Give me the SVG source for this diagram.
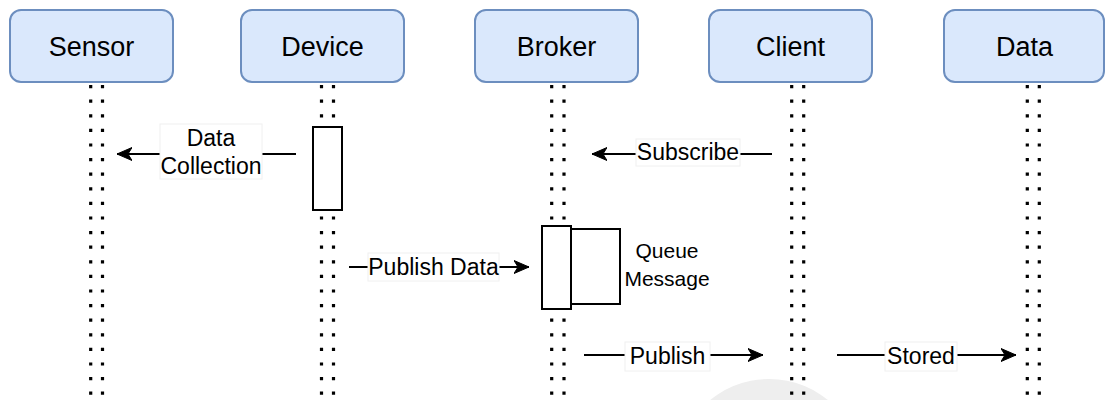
<svg xmlns="http://www.w3.org/2000/svg" width="1105" height="400" viewBox="0 0 1105 400">
  <style>
    .actor { fill: #dae8fc; stroke: #6c8ebf; stroke-width: 2; }
    .actor-label { font-family: "Liberation Sans", Arial, sans-serif; font-size: 27px; fill: #000; text-anchor: middle; }
    .life { stroke: #000; stroke-width: 3.2; stroke-dasharray: 3.2 11.4; fill: none; }
    .act { fill: #fff; stroke: #000; stroke-width: 2; }
    .msg { stroke: #000; stroke-width: 2; fill: none; }
    .lbl-bg { fill: #fff; stroke: #f0f0f0; stroke-width: 1; }
    .lbl { font-family: "Liberation Sans", Arial, sans-serif; font-size: 23px; fill: #000; text-anchor: middle; }
  </style>
  <defs>
    <marker id="arrow" viewBox="0 0 16 14" refX="15" refY="7" markerWidth="16" markerHeight="14" markerUnits="userSpaceOnUse" orient="auto">
      <path d="M15,7 L0,0.5 L4,7 L0,13.5 Z" fill="#000" stroke="#000" stroke-width="1"/>
    </marker>
  </defs>

  <rect width="1105" height="400" fill="#fff"/>
  <!-- soft grey disc at the bottom edge -->
  <circle cx="769" cy="472" r="93" fill="#eeeeee"/>

  <!-- lifelines (each drawn as a pair of dotted columns) -->
  <g id="lifelines">
    <line class="life" x1="90.7" y1="85" x2="90.7" y2="400"/>
    <line class="life" x1="102.5" y1="85" x2="102.5" y2="400"/>
    <line class="life" x1="321.5" y1="85" x2="321.5" y2="400"/>
    <line class="life" x1="333.5" y1="85" x2="333.5" y2="400"/>
    <line class="life" x1="551.7" y1="85" x2="551.7" y2="400"/>
    <line class="life" x1="564" y1="85" x2="564" y2="400"/>
    <line class="life" x1="791.7" y1="85" x2="791.7" y2="400"/>
    <line class="life" x1="803.7" y1="85" x2="803.7" y2="400"/>
    <line class="life" x1="1027.3" y1="85" x2="1027.3" y2="400"/>
    <line class="life" x1="1039.3" y1="85" x2="1039.3" y2="400"/>
  </g>

  <!-- participants -->
  <g id="sensor">
    <rect class="actor" x="10" y="10" width="163" height="72" rx="11"/>
    <text class="actor-label" x="91.5" y="55.5">Sensor</text>
  </g>
  <g id="device">
    <rect class="actor" x="241" y="10" width="163" height="72" rx="11"/>
    <text class="actor-label" x="322.5" y="55.5">Device</text>
  </g>
  <g id="broker">
    <rect class="actor" x="475" y="10" width="163" height="72" rx="11"/>
    <text class="actor-label" x="556.5" y="55.5">Broker</text>
  </g>
  <g id="client">
    <rect class="actor" x="709" y="10" width="163" height="72" rx="11"/>
    <text class="actor-label" x="790.5" y="55.5">Client</text>
  </g>
  <g id="data">
    <rect class="actor" x="944" y="10" width="160" height="72" rx="11"/>
    <text class="actor-label" x="1024.5" y="55.5">Data</text>
  </g>

  <!-- activations -->
  <g id="device-activation">
    <rect class="act" x="313" y="127" width="29" height="83"/>
  </g>
  <g id="broker-activation">
    <rect class="act" x="571" y="229" width="49" height="75"/>
    <rect class="act" x="542" y="226" width="29" height="83"/>
    <text class="lbl" x="667" y="258" style="font-size:21px">Queue</text>
    <text class="lbl" x="667" y="286" style="font-size:21px">Message</text>
  </g>

  <!-- messages -->
  <g id="connectors">
    <g id="msg-data-collection">
      <line class="msg" x1="296" y1="154" x2="117" y2="154" marker-end="url(#arrow)"/>
      <rect class="lbl-bg" x="160" y="124" width="102" height="55"/>
      <text class="lbl" x="211" y="146">Data</text>
      <text class="lbl" x="211" y="174">Collection</text>
    </g>
    <g id="msg-subscribe">
      <line class="msg" x1="772" y1="154" x2="592" y2="154" marker-end="url(#arrow)"/>
      <rect class="lbl-bg" x="636" y="139" width="104" height="27"/>
      <text class="lbl" x="688" y="160">Subscribe</text>
    </g>
    <g id="msg-publish-data">
      <line class="msg" x1="349" y1="267" x2="529" y2="267" marker-end="url(#arrow)"/>
      <rect class="lbl-bg" x="368" y="253" width="131" height="28"/>
      <text class="lbl" x="433.5" y="275">Publish Data</text>
    </g>
    <g id="msg-publish">
      <line class="msg" x1="584" y1="355" x2="763" y2="355" marker-end="url(#arrow)"/>
      <rect class="lbl-bg" x="625" y="342" width="85" height="29"/>
      <text class="lbl" x="667.5" y="364">Publish</text>
    </g>
    <g id="msg-stored">
      <line class="msg" x1="837" y1="355" x2="1016" y2="355" marker-end="url(#arrow)"/>
      <rect class="lbl-bg" x="885" y="342" width="72" height="29"/>
      <text class="lbl" x="921" y="364">Stored</text>
    </g>
  </g>
</svg>
